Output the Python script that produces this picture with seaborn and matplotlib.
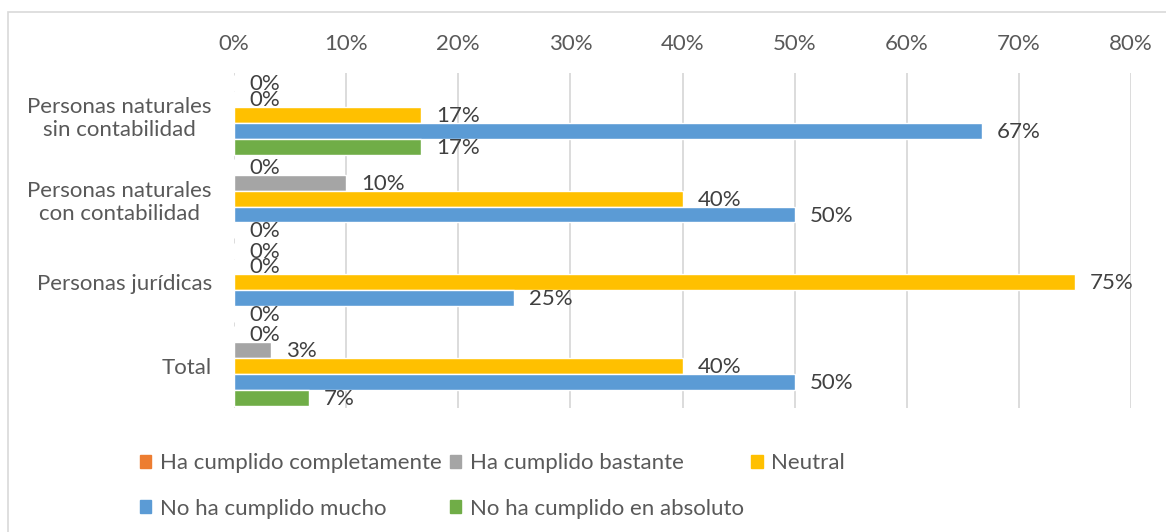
import matplotlib
matplotlib.use("Agg")
import matplotlib.pyplot as plt
import matplotlib.patches as mpatches
import seaborn as sns
import pandas as pd

# data (percent of respondents)
categories = ["Personas naturales\nsin contabilidad", "Personas naturales\ncon contabilidad",
              "Personas jurídicas", "Total"]
series = ["Ha cumplido completamente", "Ha cumplido bastante", "Neutral",
          "No ha cumplido mucho", "No ha cumplido en absoluto"]
completamente = [0, 0, 0, 0]
bastante = [0, 10, 0, 3.33]
neutral = [16.67, 40, 75, 40]
mucho = [66.67, 50, 25, 50]
absoluto = [16.67, 0, 0, 6.67]
x_ticks = [0, 10, 20, 30, 40, 50, 60, 70, 80]

colors = ["#ED7D31", "#A5A5A5", "#FFC000", "#5B9BD5", "#70AD47"]
text_color = "#595959"
fs = 16

rows = []
for name, vals in zip(series, [completamente, bastante, neutral, mucho, absoluto]):
    for cat, v in zip(categories, vals):
        rows.append({"Categoria": cat, "Serie": name, "Valor": v})
df = pd.DataFrame(rows)

sns.set_theme(style="white")
plt.rcParams["font.family"] = ["Lato", "DejaVu Sans"]

fig = plt.figure(figsize=(11.66, 5.32), dpi=100)
ax = fig.add_axes([234 / 1166, 1 - 408 / 532, (1131 - 234) / 1166, (408 - 73) / 532])

sns.barplot(data=df, y="Categoria", x="Valor", hue="Serie", order=categories,
            hue_order=series, palette=colors, orient="y", width=0.95,
            saturation=1, legend=False, ax=ax, errorbar=None)

# data labels (the 0% ones overlap in the original too)
for container in ax.containers:
    for bar in container:
        w = bar.get_width()
        yc = bar.get_y() + bar.get_height() / 2
        ax.annotate(f"{w:.0f}%", xy=(w, yc), xytext=(15, -1), textcoords="offset pixels",
                    ha="left", va="center", fontsize=fs, color="#404040")

ax.set_xlim(0, 80)
ax.set_ylim(3.5, -0.5)
ax.set_xticks(x_ticks)
ax.set_xticklabels([f"{t}%" for t in x_ticks])
ax.xaxis.tick_top()
ax.tick_params(axis="x", length=0, pad=14, labelsize=fs, colors=text_color)
ax.tick_params(axis="y", length=0, pad=16, labelsize=fs, colors=text_color)
for lab in ax.get_yticklabels():
    lab.set_multialignment("center")
ax.set_xlabel("")
ax.set_ylabel("")
ax.grid(axis="x", color="#D9D9D9", linewidth=1.3)
ax.set_axisbelow(True)
for s in ax.spines.values():
    s.set_visible(False)

# legend, filled row by row like the original
handles = [mpatches.Patch(color=c, label=s) for c, s in zip(colors, series)]
order = [0, 3, 1, 4, 2]
leg = fig.legend([handles[i] for i in order], [series[i] for i in order], ncol=3,
                 loc="upper left", bbox_to_anchor=(129 / 1166, 1 - 442 / 532),
                 frameon=False, fontsize=fs, borderpad=0, handlelength=0.5,
                 handleheight=0.5, handletextpad=0.4, labelspacing=1.15, columnspacing=0.35)
for t in leg.get_texts():
    t.set_color(text_color)

# chart area border
fig.patches.append(mpatches.Rectangle((8 / 1166, -0.05), 1.2, 1 - 12 / 532 + 0.05,
                                      transform=fig.transFigure, fill=False,
                                      edgecolor="#D9D9D9", linewidth=1.2))

fig.savefig("out.png", dpi=100)
